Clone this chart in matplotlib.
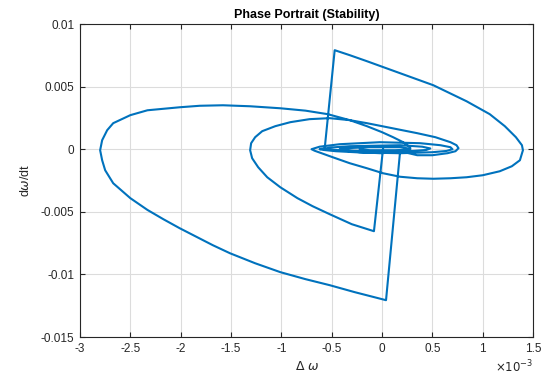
import numpy as np
import matplotlib
matplotlib.use("Agg")
import matplotlib.pyplot as plt

# Trajectory (delta omega in 1e-3, d omega/dt in 1e-3)
# leg 1: jump + medium loop
dw_1 = [0.01, -0.08, -0.30, -0.52, -0.69, -0.84, -1.01, -1.14, -1.23, -1.29, -1.31,
        -1.30, -1.26, -1.19, -1.06, -0.91, -0.72, -0.52, -0.32, -0.15, 0.10, 0.35,
        0.53, 0.68, 0.74, 0.76, 0.73, 0.65, 0.50, 0.35, 0.18]
ddw_1 = [0.0, -6.55, -5.99, -5.19, -4.55, -3.91, -3.04, -2.24, -1.44, -0.72, -0.08,
         0.48, 0.96, 1.44, 1.84, 2.16, 2.40, 2.48, 2.32, 2.08, 1.68, 1.28,
         0.96, 0.56, 0.32, 0.08, -0.16, -0.32, -0.48, -0.48, -0.16]
# leg 2: jump + big loop
dw_2 = [0.04, -0.27, -0.52, -0.76, -1.01, -1.26, -1.51, -1.68, -2.01, -2.17, -2.33, -2.50,
        -2.67, -2.75, -2.78, -2.80, -2.78, -2.73, -2.67, -2.50, -2.33, -2.01, -1.81,
        -1.58, -1.31, -1.01, -0.76, -0.54, -0.32, -0.15, 0.0, 0.11, 0.21, 0.28,
        0.28, 0.18, -0.02, -0.22, -0.42, -0.57]
ddw_2 = [-12.06, -11.42, -10.86, -10.38, -9.82, -9.11, -8.31, -7.67, -6.31, -5.60, -4.85, -3.91,
         -2.72, -1.68, -0.88, -0.08, 0.72, 1.52, 2.08, 2.72, 3.11, 3.35, 3.47,
         3.51, 3.43, 3.27, 3.08, 2.80, 2.32, 1.84, 1.36, 0.96, 0.56, 0.16,
         -0.08, -0.24, -0.32, -0.24, -0.08, 0.0]
# leg 3: jump + outer right loop
dw_3 = [-0.47, -0.32, -0.15, 0.18, 0.51, 0.84, 1.07, 1.22, 1.33, 1.39, 1.40, 1.37,
        1.29, 1.17, 1.00, 0.84, 0.68, 0.51, 0.35, 0.18, 0.01, -0.15, -0.32, -0.49,
        -0.60, -0.67, -0.70]
ddw_3 = [7.91, 7.51, 7.03, 6.07, 5.11, 3.83, 2.80, 1.84, 0.96, 0.32, -0.08, -0.88,
         -1.36, -1.76, -2.08, -2.24, -2.32, -2.36, -2.32, -2.20, -1.92, -1.52, -1.12, -0.64,
         -0.32, -0.12, 0.0]
# leg 4: small loops settling
dw_4 = [-0.62, -0.42, -0.02, 0.38, 0.58, 0.68, 0.70, 0.64, 0.50, 0.18, -0.22, -0.46,
        -0.58, -0.62, -0.50, -0.32, 0.18, 0.40, 0.48, 0.44, 0.30, 0.03, -0.28,
        -0.40, -0.42, -0.30, -0.12, 0.18, 0.28, 0.24, 0.13, -0.12, -0.22]
ddw_4 = [0.20, 0.40, 0.56, 0.48, 0.32, 0.16, 0.0, -0.14, -0.24, -0.32, -0.26, -0.16,
         -0.06, 0.0, 0.14, 0.24, 0.32, 0.20, 0.06, -0.06, -0.14, -0.18, -0.12,
         -0.04, 0.02, 0.10, 0.16, 0.16, 0.04, -0.04, -0.08, -0.08, 0.0]

dw = np.array(dw_1 + dw_2 + dw_3 + dw_4) * 1e-3
ddw = np.array(ddw_1 + ddw_2 + ddw_3 + ddw_4) * 1e-3

xticks = [-3, -2.5, -2, -1.5, -1, -0.5, 0, 0.5, 1, 1.5]
yticks = [0.01, 0.005, 0, -0.005, -0.01, -0.015]

plt.rcParams['font.family'] = ['Liberation Sans', 'DejaVu Sans']
plt.rcParams['axes.unicode_minus'] = False
plt.rcParams['mathtext.fontset'] = 'dejavusans'

fig = plt.figure(figsize=(5.42, 3.77), dpi=100)
ax = fig.add_axes([0.1476, 0.1061, 0.8358, 0.8302])
ax.plot(dw, ddw, color='#0072BD', lw=1.5, solid_joinstyle='round')

ax.set_xlim(-3e-3, 1.5e-3)
ax.set_ylim(-0.015, 0.01)
ax.set_xticks([t * 1e-3 for t in xticks])
ax.set_xticklabels([f"{t:g}" for t in xticks])
ax.set_yticks(yticks)
ax.set_yticklabels([f"{t:g}" for t in yticks])
ax.tick_params(direction='in', top=True, right=True, labelsize=8.5,
               colors='#262626', length=3.5, width=0.8, pad=4)
ax.grid(True, color='#dcdcdc', lw=0.8)
ax.set_axisbelow(True)
for s in ax.spines.values():
    s.set_color('#262626')
    s.set_linewidth(0.8)

ax.set_title('Phase Portrait (Stability)', fontsize=9, fontweight='bold', pad=4)
ax.set_xlabel(r'$\Delta$ $\omega$', fontsize=9, color='#262626', labelpad=4)
ax.set_ylabel(r'd$\omega$/dt', fontsize=9, color='#262626', labelpad=6)
ax.text(1.0, -0.095, r'$\times10^{-3}$', transform=ax.transAxes, fontsize=8.5,
        ha='right', va='center', color='#262626')

fig.savefig('out.png', dpi=100)
